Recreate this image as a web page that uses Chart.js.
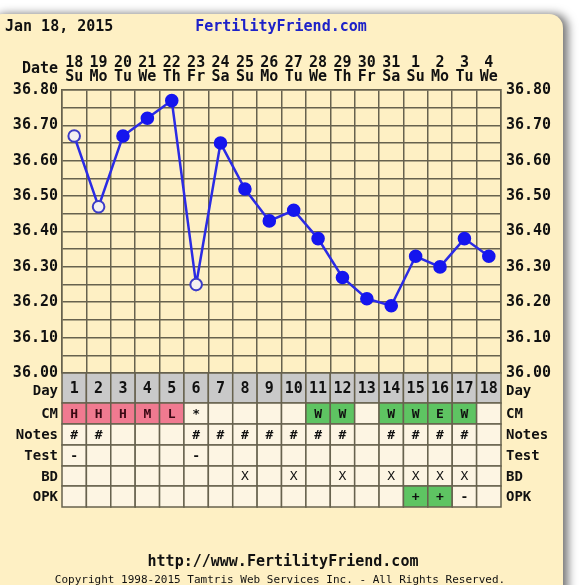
<!DOCTYPE html>
<html>
<head>
<meta charset="utf-8">
<script src="https://cdn.jsdelivr.net/npm/chart.js@4"></script>
<style>
html,body{margin:0;padding:0;background:#fff;}
#wrap{width:583px;height:585px;position:relative;}
</style>
</head>
<body>
<div id="wrap"><canvas id="c" width="583" height="585"></canvas></div>
<script>
// ---- data ----
const chartDate = 'Jan 18, 2015';
const siteName = 'FertilityFriend.com';
const siteUrl = 'http://www.FertilityFriend.com';
const copyright = 'Copyright 1998-2015 Tamtris Web Services Inc. - All Rights Reserved.';
const dateNums = ['18','19','20','21','22','23','24','25','26','27','28','29','30','31','1','2','3','4'];
const weekdays = ['Su','Mo','Tu','We','Th','Fr','Sa','Su','Mo','Tu','We','Th','Fr','Sa','Su','Mo','Tu','We'];
const temps = [36.67,36.47,36.67,36.72,36.77,36.25,36.65,36.52,36.43,36.46,36.38,36.27,36.21,36.19,36.33,36.30,36.38,36.33];
const openPoints = [true,true,false,false,false,true,false,false,false,false,false,false,false,false,false,false,false,false];
const cycleDays = ['1','2','3','4','5','6','7','8','9','10','11','12','13','14','15','16','17','18'];
const cmRow    = ['H','H','H','M','L','*','','','','','W','W','','W','W','E','W',''];
const notesRow = ['#','#','','','','#','#','#','#','#','#','#','','#','#','#','#',''];
const testRow  = ['-','','','','','-','','','','','','','','','','','',''];
const bdRow    = ['','','','','','','','X','','X','','X','','X','X','X','X',''];
const opkRow   = ['','','','','','','','','','','','','','','+','+','-',''];
const rowNames = ['Day','CM','Notes','Test','BD','OPK'];
const tempMin = 36.0, tempMax = 36.8, tempStep = 0.05;

// ---- styles ----
const FONT = '"DejaVu Sans Mono", "Liberation Mono", monospace';
const PANEL = '#FEF0C4';
const GRID = '#67624E';
const CELL = '#FDF5E3';
const DAYCELL = '#C9C9C9';
const PINK = '#F07A90';
const GREEN = '#5EC462';
const cmColor = {H:PINK, M:PINK, L:PINK, W:GREEN, E:GREEN};
const opkColor = {'+':GREEN};
const rowEdges = [373, 403, 424, 445, 466, 486, 507];

const labels = dateNums.map((d,i)=>[d, weekdays[i]]);
const tableRows = [cycleDays, cmRow, notesRow, testRow, bdRow, opkRow];

const decor = {
  id:'decor',
  beforeDraw(chart){
    const ctx = chart.ctx;
    ctx.save();
    ctx.fillStyle = '#fff';
    ctx.fillRect(0,0,583,585);
    ctx.shadowColor = 'rgba(0,0,0,0.55)';
    ctx.shadowBlur = 10;
    ctx.shadowOffsetX = 5;
    ctx.shadowOffsetY = 0;
    ctx.fillStyle = PANEL;
    ctx.beginPath();
    ctx.roundRect(-12, 14, 575, 600, 14);
    ctx.fill();
    ctx.restore();
  },
  afterDraw(chart){
    const ctx = chart.ctx;
    const xs = chart.scales.x;
    const area = chart.chartArea;
    const n = cycleDays.length;
    const cw = (area.right - area.left) / n;
    ctx.save();
    // header
    ctx.textBaseline = 'middle';
    ctx.fillStyle = '#111';
    ctx.font = 'bold 15px ' + FONT;
    ctx.textAlign = 'left';
    ctx.fillText(chartDate, 5, 27);
    ctx.fillStyle = '#1E22C8';
    ctx.textAlign = 'center';
    ctx.fillText(siteName, 281, 27);
    // Date label
    ctx.fillStyle = '#111';
    ctx.textAlign = 'right';
    ctx.font = 'bold 15px ' + FONT;
    ctx.fillText('Date', 58, 69);
    // table
    for (let r = 0; r < tableRows.length; r++) {
      const y0 = rowEdges[r], y1 = rowEdges[r+1];
      const row = tableRows[r];
      for (let i = 0; i < n; i++) {
        const cx = xs.getPixelForValue(i);
        const x0 = cx - cw/2;
        let fill = CELL;
        if (r === 0) fill = DAYCELL;
        if (r === 1 && cmColor[row[i]]) fill = cmColor[row[i]];
        if (r === 5 && opkColor[row[i]]) fill = opkColor[row[i]];
        ctx.fillStyle = fill;
        ctx.fillRect(x0, y0, cw, y1 - y0);
        ctx.strokeStyle = GRID;
        ctx.lineWidth = 1.5;
        ctx.strokeRect(x0, y0, cw, y1 - y0);
        if (row[i]) {
          ctx.fillStyle = (r === 1 && cmColor[row[i]] === PINK) ? '#3a0a14' : '#111';
          ctx.textAlign = 'center';
          ctx.font = (r === 4 ? '' : 'bold ') + (r === 0 ? '15px ' : '13px ') + FONT;
          ctx.fillText(row[i], cx, (y0 + y1)/2 + 1);
        }
      }
      ctx.fillStyle = '#111';
      ctx.font = 'bold 14px ' + FONT;
      ctx.textAlign = 'right';
      const ly = r === 0 ? 391 : (y0 + y1)/2 + 1;
      ctx.fillText(rowNames[r], 58, ly);
      ctx.textAlign = 'left';
      ctx.fillText(rowNames[r], 506, ly);
    }
    // footer
    ctx.textAlign = 'center';
    ctx.fillStyle = '#111';
    ctx.font = 'bold 15px ' + FONT;
    ctx.fillText(siteUrl, 283, 562);
    ctx.font = '11px ' + FONT;
    ctx.fillText(copyright, 280, 580);
    ctx.restore();
  }
};

const yTick = v => {
  const k = Math.round(v * 100);
  return (k % 10 === 0) ? (k/100).toFixed(2) : '';
};

new Chart(document.getElementById('c'), {
  type: 'line',
  data: {
    labels: labels,
    datasets: [{
      data: temps,
      borderColor: '#2B2BE4',
      borderWidth: 2.5,
      tension: 0,
      pointRadius: 5.8,
      pointHoverRadius: 5.8,
      pointBorderWidth: 2,
      pointBorderColor: openPoints.map(o => o ? '#3C3CC8' : '#1515EE'),
      pointBackgroundColor: openPoints.map(o => o ? '#F4F0F0' : '#1515EE'),
      yAxisID: 'y'
    }]
  },
  options: {
    responsive: false,
    animation: false,
    devicePixelRatio: 1,
    layout: {padding: {top: 0, left: 0, right: 0, bottom: 585 - 373}},
    plugins: {legend: {display: false}, tooltip: {enabled: false}},
    scales: {
      x: {
        type: 'category',
        position: 'top',
        offset: true,
        grid: {color: GRID, lineWidth: 1.5, offset: true, drawTicks: false},
        border: {display: true, color: GRID, width: 1.5},
        ticks: {
          color: '#111', autoSkip: false, maxRotation: 0, minRotation: 0, padding: 6,
          font: {family: FONT, size: 15, weight: 'bold', lineHeight: 0.95}
        },
        afterFit: s => { s.height = 90; }
      },
      y: {
        position: 'left',
        min: tempMin, max: tempMax,
        grid: {color: GRID, lineWidth: 1.5, drawTicks: false},
        border: {display: true, color: GRID, width: 1.5},
        ticks: {
          stepSize: tempStep, autoSkip: false, callback: yTick, padding: 4,
          color: '#111', font: {family: FONT, size: 15, weight: 'bold'}
        },
        afterFit: s => { s.width = 62; }
      },
      y2: {
        position: 'right',
        min: tempMin, max: tempMax,
        grid: {display: false, drawTicks: false},
        border: {display: true, color: GRID, width: 1.5},
        ticks: {
          stepSize: tempStep, autoSkip: false, callback: yTick, padding: 5,
          color: '#111', font: {family: FONT, size: 15, weight: 'bold'}
        },
        afterFit: s => { s.width = 82; }
      }
    }
  },
  plugins: [decor]
});
</script>
</body>
</html>
